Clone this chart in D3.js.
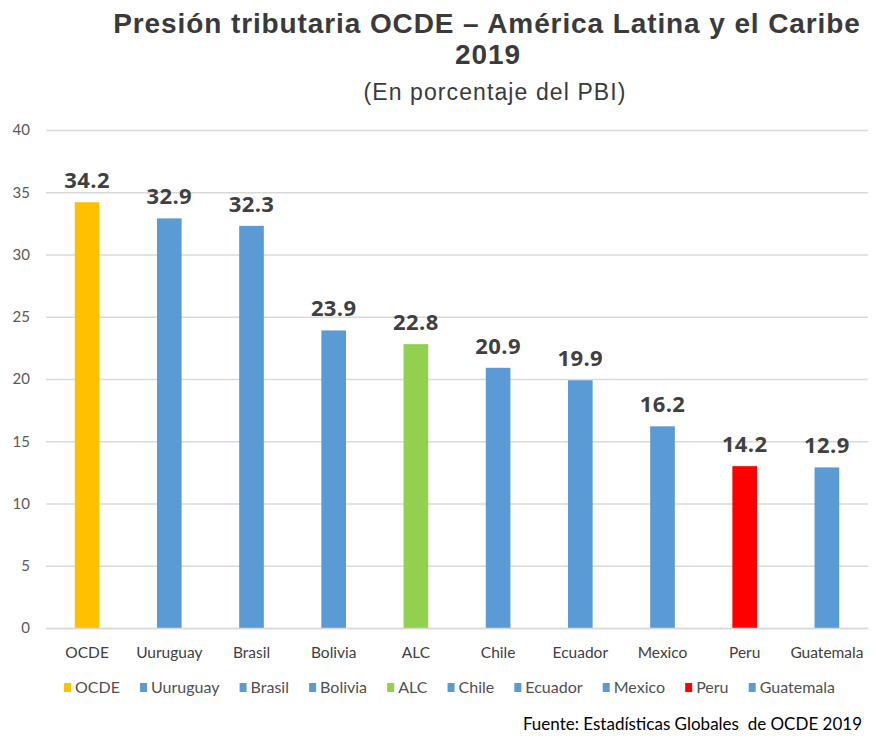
<!DOCTYPE html>
<html>
<head>
<meta charset="utf-8">
<script src="https://cdn.jsdelivr.net/npm/d3@7"></script>
<style>
  body { margin: 0; background: #fff; }
  svg { display: block; }
</style>
</head>
<body>
<div id="chart"></div>
<script>
// values
const categories = ["OCDE", "Uuruguay", "Brasil", "Bolivia", "ALC", "Chile", "Ecuador", "Mexico", "Peru", "Guatemala"];
const barValues = [34.2, 32.9, 32.3, 23.9, 22.8, 20.9, 19.9, 16.2, 13.0, 12.9];
const barLabels = ["34.2", "32.9", "32.3", "23.9", "22.8", "20.9", "19.9", "16.2", "14.2", "12.9"];
const barColors = ["#FFC000", "#5B9BD5", "#5B9BD5", "#5B9BD5", "#92D050", "#5B9BD5", "#5B9BD5", "#5B9BD5", "#FF0000", "#5B9BD5"];
const yTicks = [0, 5, 10, 15, 20, 25, 30, 35, 40];

const width = 876, height = 738;
const margin = {top: 130, right: 8, bottom: 110, left: 46};

const svg = d3.select("#chart").append("svg")
    .attr("width", width)
    .attr("height", height);

const x = d3.scaleBand()
    .domain(categories)
    .range([margin.left, width - margin.right])
    .paddingInner(0.7)
    .paddingOuter(0.35);

const y = d3.scaleLinear()
    .domain([0, 40])
    .range([height - margin.bottom, margin.top]);

// title
svg.append("text")
    .attr("x", 487).attr("y", 33)
    .attr("text-anchor", "middle")
    .attr("font-family", "Liberation Sans, Arial, sans-serif")
    .attr("font-weight", "bold")
    .attr("font-size", 28)
    .attr("letter-spacing", 0.9)
    .attr("fill", "#3a3a3a")
    .text("Presión tributaria OCDE – América Latina y el Caribe");
svg.append("text")
    .attr("x", 488).attr("y", 64)
    .attr("text-anchor", "middle")
    .attr("font-family", "Liberation Sans, Arial, sans-serif")
    .attr("font-weight", "bold")
    .attr("font-size", 28)
    .attr("letter-spacing", 0.9)
    .attr("fill", "#3a3a3a")
    .text("2019");
svg.append("text")
    .attr("x", 495).attr("y", 100)
    .attr("text-anchor", "middle")
    .attr("font-family", "Liberation Sans, Arial, sans-serif")
    .attr("font-size", 23)
    .attr("letter-spacing", 1.1)
    .attr("fill", "#3a3a3a")
    .text("(En porcentaje del PBI)");

// gridlines + y labels
const yAxis = svg.append("g")
    .attr("transform", `translate(${margin.left},0)`)
    .call(d3.axisLeft(y).tickValues(yTicks).tickSize(-(width - margin.left - margin.right)).tickPadding(16));
yAxis.select(".domain").remove();
yAxis.selectAll(".tick line").attr("stroke", "#d9d9d9").attr("stroke-width", 1.5);
yAxis.selectAll(".tick text")
    .attr("font-family", "Lato, sans-serif")
    .attr("font-size", 15)
    .attr("fill", "#595959");

// bars
svg.append("g").selectAll("rect")
    .data(categories)
    .join("rect")
    .attr("x", d => x(d))
    .attr("y", (d, i) => y(barValues[i]))
    .attr("width", x.bandwidth())
    .attr("height", (d, i) => y(0) - y(barValues[i]))
    .attr("fill", (d, i) => barColors[i]);

// value labels
svg.append("g").selectAll("text")
    .data(categories)
    .join("text")
    .attr("x", d => x(d) + x.bandwidth() / 2)
    .attr("y", (d, i) => y(barValues[i]) - 14)
    .attr("text-anchor", "middle")
    .attr("font-family", "Open Sans, sans-serif")
    .attr("font-weight", "bold")
    .attr("font-size", 22)
    .attr("letter-spacing", 0.4)
    .attr("fill", "#404040")
    .text((d, i) => barLabels[i]);

// x axis
const xAxis = svg.append("g")
    .attr("transform", `translate(0,${y(0)})`)
    .call(d3.axisBottom(x).tickSize(0).tickPadding(19));
xAxis.select(".domain").attr("stroke", "#d9d9d9").attr("stroke-width", 1.5);
xAxis.selectAll(".tick text")
    .attr("font-family", "Lato, sans-serif")
    .attr("font-size", 15.5)
    .attr("fill", "#404040");

// legend: spread items across the same span as the reference
const legend = svg.append("g").attr("transform", "translate(0,688)");
const legStart = 64, legEnd = 835, swatch = 7, swGap = 4;
const items = categories.map((c, i) => {
    const item = legend.append("g");
    item.append("rect")
        .attr("x", 0).attr("y", -5)
        .attr("width", swatch).attr("height", 9)
        .attr("fill", barColors[i]);
    const t = item.append("text")
        .attr("x", swatch + swGap).attr("y", 5)
        .attr("font-family", "Lato, sans-serif")
        .attr("font-size", 16)
        .attr("fill", "#505050")
        .text(c);
    return {item, w: swatch + swGap + t.node().getComputedTextLength()};
});
const used = d3.sum(items, d => d.w);
const gap = (legEnd - legStart - used) / (items.length - 1);
let lx = legStart;
items.forEach(d => {
    d.item.attr("transform", `translate(${lx},0)`);
    lx += d.w + gap;
});

// source
svg.append("text")
    .attr("x", 862).attr("y", 730)
    .attr("text-anchor", "end")
    .attr("font-family", "Lato, sans-serif")
    .attr("font-size", 17)
    .attr("fill", "#000")
    .style("white-space", "pre")
    .text("Fuente: Estadísticas Globales  de OCDE 2019");
</script>
</body>
</html>
